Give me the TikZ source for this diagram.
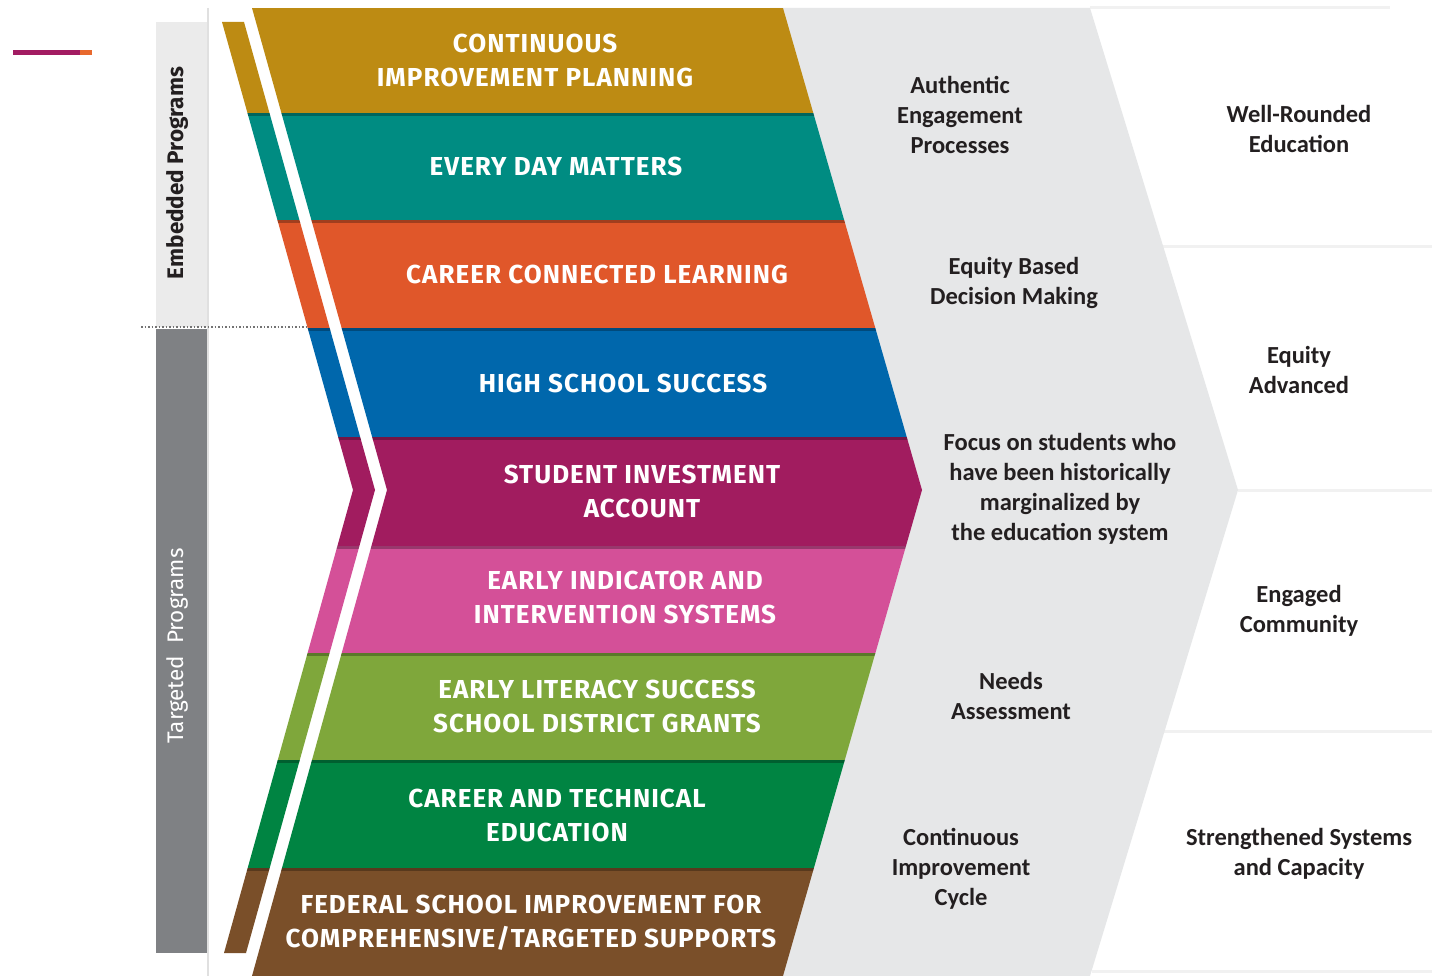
\documentclass[tikz,border=0pt]{standalone}
\usepackage{fontspec}
\newfontfamily\bandfont{Fira Sans}[LetterSpace=4]
\newfontfamily\sidefont{Fira Sans}
\newfontfamily\calfont{Carlito}
\definecolor{cip}{HTML}{BD8B13}
\definecolor{edm}{HTML}{008C82}
\definecolor{ccl}{HTML}{E0572A}
\definecolor{hss}{HTML}{0067AC}
\definecolor{sia}{HTML}{A11C5F}
\definecolor{eii}{HTML}{D45098}
\definecolor{els}{HTML}{7FA73B}
\definecolor{cte}{HTML}{008442}
\definecolor{fsi}{HTML}{7A4F29}
\definecolor{chev}{HTML}{E6E7E8}
\definecolor{lightbar}{HTML}{EBEBEB}
\definecolor{darkbar}{HTML}{7F8184}
\definecolor{faint}{HTML}{F1F1F1}
\definecolor{txt}{HTML}{231F20}
\definecolor{markmag}{HTML}{A21C62}
\definecolor{markora}{HTML}{E8692E}
\tikzset{
  bandtxt/.style={text=white, font=\bandfont\bfseries\fontsize{26}{34}\selectfont, align=center, inner sep=0pt},
  graytxt/.style={text=txt, font=\calfont\bfseries\fontsize{24.5}{30}\selectfont, align=center, inner sep=0pt},
  sidetxt/.style={rotate=90, inner sep=0pt},
  sepline/.style={draw=faint, line width=3pt}
}
\begin{document}
\begin{tikzpicture}[x=1pt,y=-1pt]
\useasboundingbox (0,0) rectangle (1432,976);
\fill[white] (0,0) rectangle (1432,976);

% top-left mark
\fill[markmag] (13,50) rectangle (80,55);
\fill[markora] (80,50) rectangle (92,55);

% thin vertical rule
\draw[draw=black!12, line width=1.5pt] (208,8) -- (208,976);

% side bars
\fill[lightbar] (156,22) rectangle (207,327);
\fill[darkbar] (156,329) rectangle (207,953);
\draw[black!55, dotted, line width=1.5pt] (141,327) -- (312,327);

% separators on the right
\draw[sepline] (1090,8) -- (1390,8);
\draw[sepline] (1163,247) -- (1432,247);
\draw[sepline] (1238,490) -- (1432,490);
\draw[sepline] (1163,731) -- (1432,731);
\draw[sepline] (1092,971) -- (1432,971);

% gray chevron
\fill[chev] (770,8) -- (1090,8) -- (1238,490) -- (1090,976) -- (770,976) -- (909,490) -- cycle;

% coloured bands
\begin{scope}
\clip (252,8) -- (783,8) -- (922,490) -- (783,976) -- (252,976) -- (387,490) -- cycle
      (222,22) -- (244,22) -- (375,490) -- (246,953) -- (224,953) -- (353,490) -- cycle;
\foreach \t/\b/\c in {8/113/cip,113/220/edm,220/328/ccl,328/437/hss,437/546/sia,546/653/eii,653/760/els,760/868/cte,868/976/fsi}{
  \fill[\c] (0,\t) rectangle (1432,\b);
}
\foreach \t in {113,220,328,437,546,653,760,868}{
  \fill[black, opacity=0.28] (0,\t) rectangle (1432,\t+3);
}
\end{scope}

% band labels
\node[bandtxt] (b1) at (535,60) {CONTINUOUS\\IMPROVEMENT PLANNING};
\node[bandtxt] (b2) at (556,166) {EVERY DAY MATTERS};
\node[bandtxt] (b3) at (597,274) {CAREER CONNECTED LEARNING};
\node[bandtxt] (b4) at (623,383) {HIGH SCHOOL SUCCESS};
\node[bandtxt] (b5) at (642,491) {STUDENT INVESTMENT\\ACCOUNT};
\node[bandtxt] (b6) at (625,597) {EARLY INDICATOR AND\\INTERVENTION SYSTEMS};
\node[bandtxt] (b7) at (597,706) {EARLY LITERACY SUCCESS\\SCHOOL DISTRICT GRANTS};
\node[bandtxt] (b8) at (557,815) {CAREER AND TECHNICAL\\EDUCATION};
\node[bandtxt] (b9) at (531,923) {FEDERAL SCHOOL IMPROVEMENT FOR\\COMPREHENSIVE/TARGETED SUPPORTS};

% middle column
\node[graytxt] (m1) at (960,115) {Authentic\\Engagement\\Processes};
\node[graytxt] (m2) at (1014,283) {Equity Based\\Decision Making};
\node[graytxt] (m3) at (1060,489) {Focus on students who\\have been historically\\marginalized by\\the education system};
\node[graytxt] (m4) at (1011,696) {Needs\\Assessment};
\node[graytxt] (m5) at (961,869) {Continuous\\Improvement\\Cycle};

% right column
\node[graytxt] (r1) at (1299,129) {Well-Rounded\\Education};
\node[graytxt] (r2) at (1299,370) {Equity\\Advanced};
\node[graytxt] (r3) at (1299,611) {Engaged\\Community};
\node[graytxt] (r4) at (1299,854) {Strengthened Systems\\and Capacity};

% side labels
\node[sidetxt, text=txt, font=\sidefont\bfseries\fontsize{22.5}{26}\selectfont] (emb) at (177,173) {Embedded Programs};
\node[sidetxt, text=white, font=\sidefont\fontsize{22.5}{26}\selectfont] (tar) at (177,646) {Targeted\ \ Programs};
\end{tikzpicture}
\end{document}
